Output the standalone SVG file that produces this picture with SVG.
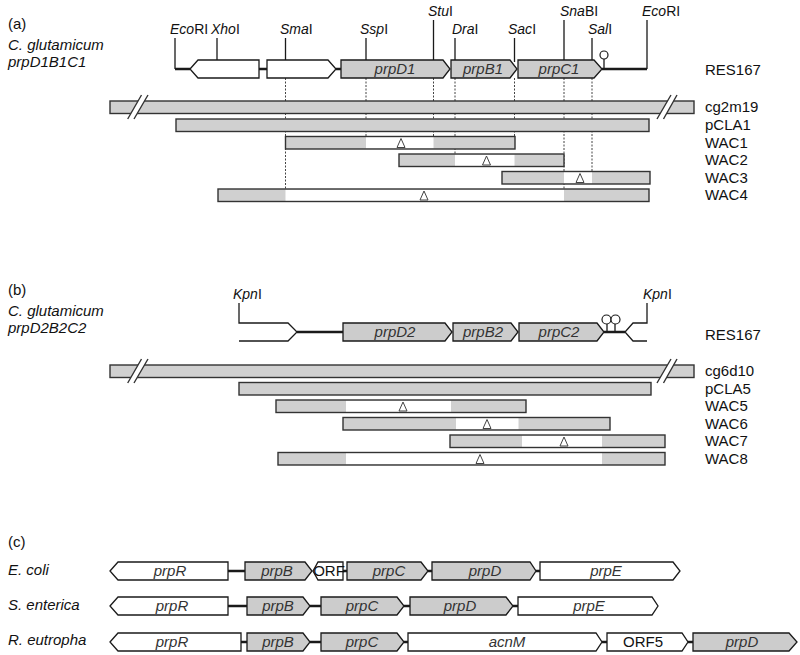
<svg xmlns="http://www.w3.org/2000/svg" width="800" height="655" viewBox="0 0 800 655">
<style>
text{font-family:"Liberation Sans",Arial,sans-serif;fill:#111}
.lab{font-size:15px}
.it{font-style:italic}
.site{font-size:14px}
.gl{font-size:15px;font-style:italic;fill:#333;text-anchor:middle}
.gr{font-size:15px;fill:#111;text-anchor:middle}
.gene{stroke:#1a1a1a;stroke-width:1.3;stroke-linejoin:miter}
.g{fill:#cccccc}
.w{fill:#ffffff}
.link{stroke:#1a1a1a;stroke-width:2.4;fill:none}
.ln{stroke:#1a1a1a;stroke-width:1.3;fill:none}
.dot{stroke:#444;stroke-width:1;stroke-dasharray:2,1.5;fill:none}
.bar{fill:#d0d0d0;stroke:none}
.bo{fill:none;stroke:#333;stroke-width:1.4}
.del{fill:#fff;stroke:#444;stroke-width:1}
.brk{stroke:#333;stroke-width:1.4}
</style>

<!-- ===== (a) ===== -->
<text class="lab" x="8" y="29">(a)</text>
<text class="lab it" x="8" y="50">C. glutamicum</text>
<text class="lab it" x="8" y="67">prpD1B1C1</text>

<g id="connectors">
  <!-- (a) backbone links -->
  <path class="link" d="M175,69H190M259,69H267M336,69H341M602,69H647"/>
  <!-- (a) restriction site lines -->
  <path class="ln" d="M175,38V69M217,38V60M285.5,38V60M366,38V60M433.5,20V60M455,38V60M514.5,38V62M564,20V60M592,38V60M647,20V69"/>
  <!-- (a) terminator -->
  <path class="ln" d="M604,69V59"/>
  <circle cx="604" cy="55" r="4" fill="#fff" stroke="#1a1a1a" stroke-width="1.2"/>
  <!-- (a) dotted projection lines -->
  <path class="dot" d="M285.5,78V189M366,78V136.5M433.5,78V136.5M455,78V154M514.5,78V136.5M564,78V189M592,78V171.5"/>

  <!-- (b) -->
  <path class="ln" d="M239,303V323H288L297,332L288,341H239"/>
  <path class="ln" d="M647,303V323H633L625,332L633,341H647"/>
  <path class="link" d="M297,332H343M604,332H625"/>
  <path class="ln" d="M607,332V324M615,332V324"/>
  <circle cx="606.5" cy="319.5" r="4.5" fill="#fff" stroke="#1a1a1a" stroke-width="1.2"/>
  <circle cx="615.5" cy="319.5" r="4.5" fill="#fff" stroke="#1a1a1a" stroke-width="1.2"/>

  <!-- (c) -->
  <path class="link" d="M228,571H245M343,571H347M428,571H432M536,571H540"/>
  <path class="link" d="M228,606H247M310,606H321M404,606H410M513,606H518"/>
  <path class="link" d="M241,642H247M310,642H321M404,642H408M602,642H607M688,642H693"/>
</g>

<!-- (a) site labels -->
<g id="sites-a">
  <text class="site" x="170" y="34"><tspan class="it">Eco</tspan>RI</text>
  <text class="site" x="211" y="34"><tspan class="it">Xho</tspan>I</text>
  <text class="site" x="280" y="34"><tspan class="it">Sma</tspan>I</text>
  <text class="site" x="360" y="34"><tspan class="it">Ssp</tspan>I</text>
  <text class="site" x="428" y="16"><tspan class="it">Stu</tspan>I</text>
  <text class="site" x="452" y="34"><tspan class="it">Dra</tspan>I</text>
  <text class="site" x="508" y="34"><tspan class="it">Sac</tspan>I</text>
  <text class="site" x="560" y="16"><tspan class="it">Sna</tspan>BI</text>
  <text class="site" x="588" y="34"><tspan class="it">Sal</tspan>I</text>
  <text class="site" x="642" y="16"><tspan class="it">Eco</tspan>RI</text>
</g>

<g id="a-orf1"><polygon class="gene w" points="190,69 198,60 259,60 259,78 198,78"/></g>
<g id="a-orf2"><polygon class="gene w" points="267,60 328,60 336,69 328,78 267,78"/></g>
<g id="prpD1"><polygon class="gene g" points="341,60 443,60 450,69 443,78 341,78"/><text class="gl" x="395" y="74">prpD1</text></g>
<g id="prpB1"><polygon class="gene g" points="451,60 510,60 517,69 510,78 451,78"/><text class="gl" x="483" y="74">prpB1</text></g>
<g id="prpC1"><polygon class="gene g" points="518,60 594,60 602,69 594,78 518,78"/><text class="gl" x="559" y="74">prpC1</text></g>
<text class="lab" x="705" y="75">RES167</text>

<!-- (a) clones -->
<g id="cg2m19">
  <rect class="bar" x="110" y="101" width="584" height="12.5"/>
  <rect class="bo" x="110" y="101" width="584" height="12.5"/>
  <polygon fill="#fff" points="127.7,119 141.5,95 148,95 134,119"/>
  <path class="brk" d="M127.7,119L141.5,95M134,119L148,95"/>
  <polygon fill="#fff" points="657,119 671,95 677,95 663.5,119"/>
  <path class="brk" d="M657,119L671,95M663.5,119L677,95"/>
  <text class="lab" x="705" y="112">cg2m19</text>
</g>
<g id="pCLA1">
  <rect class="bar" x="176" y="119" width="473" height="12.5"/>
  <rect class="bo" x="176" y="119" width="473" height="12.5"/>
  <text class="lab" x="705" y="130">pCLA1</text>
</g>
<g id="WAC1">
  <rect class="bar" x="285.5" y="136.5" width="229.5" height="12.5"/>
  <rect fill="#fff" x="366" y="137" width="67.5" height="11.5"/>
  <rect class="bo" x="285.5" y="136.5" width="229.5" height="12.5"/>
  <polygon class="del" points="401,138.5 397,147.5 405,147.5"/>
  <text class="lab" x="705" y="147.5">WAC1</text>
</g>
<g id="WAC2">
  <rect class="bar" x="399" y="154" width="165" height="12.5"/>
  <rect fill="#fff" x="455" y="154.5" width="59.5" height="11.5"/>
  <rect class="bo" x="399" y="154" width="165" height="12.5"/>
  <polygon class="del" points="486.5,156 482.5,165 490.5,165"/>
  <text class="lab" x="705" y="165">WAC2</text>
</g>
<g id="WAC3">
  <rect class="bar" x="502" y="171.5" width="148" height="12.5"/>
  <rect fill="#fff" x="564" y="172" width="28" height="11.5"/>
  <rect class="bo" x="502" y="171.5" width="148" height="12.5"/>
  <polygon class="del" points="580,173.5 576,182.5 584,182.5"/>
  <text class="lab" x="705" y="182.5">WAC3</text>
</g>
<g id="WAC4">
  <rect class="bar" x="218" y="189" width="431" height="12.5"/>
  <rect fill="#fff" x="285.5" y="189.5" width="278.5" height="11.5"/>
  <rect class="bo" x="218" y="189" width="431" height="12.5"/>
  <polygon class="del" points="424,191 420,200 428,200"/>
  <text class="lab" x="705" y="200">WAC4</text>
</g>

<!-- ===== (b) ===== -->
<text class="lab" x="8" y="295">(b)</text>
<text class="lab it" x="8" y="316">C. glutamicum</text>
<text class="lab it" x="8" y="333">prpD2B2C2</text>

<g id="sites-b">
  <text class="site" x="233" y="299"><tspan class="it">Kpn</tspan>I</text>
  <text class="site" x="643" y="299"><tspan class="it">Kpn</tspan>I</text>
</g>
<g id="prpD2"><polygon class="gene g" points="343,323 445,323 452,332 445,341 343,341"/><text class="gl" x="395" y="337">prpD2</text></g>
<g id="prpB2"><polygon class="gene g" points="453,323 511,323 518,332 511,341 453,341"/><text class="gl" x="483" y="337">prpB2</text></g>
<g id="prpC2"><polygon class="gene g" points="519,323 597,323 604,332 597,341 519,341"/><text class="gl" x="559" y="337">prpC2</text></g>
<text class="lab" x="705" y="340">RES167</text>

<g id="cg6d10">
  <rect class="bar" x="110" y="365" width="584" height="12.5"/>
  <rect class="bo" x="110" y="365" width="584" height="12.5"/>
  <polygon fill="#fff" points="127.7,383 141.5,359 148,359 134,383"/>
  <path class="brk" d="M127.7,383L141.5,359M134,383L148,359"/>
  <polygon fill="#fff" points="657,383 671,359 677,359 663.5,383"/>
  <path class="brk" d="M657,383L671,359M663.5,383L677,359"/>
  <text class="lab" x="705" y="376">cg6d10</text>
</g>
<g id="pCLA5">
  <rect class="bar" x="239" y="382.5" width="412" height="12.5"/>
  <rect class="bo" x="239" y="382.5" width="412" height="12.5"/>
  <text class="lab" x="705" y="393.5">pCLA5</text>
</g>
<g id="WAC5">
  <rect class="bar" x="276" y="400" width="250" height="12.5"/>
  <rect fill="#fff" x="346" y="400.5" width="105" height="11.5"/>
  <rect class="bo" x="276" y="400" width="250" height="12.5"/>
  <polygon class="del" points="403,402 399,411 407,411"/>
  <text class="lab" x="705" y="411">WAC5</text>
</g>
<g id="WAC6">
  <rect class="bar" x="343" y="417.5" width="267" height="12.5"/>
  <rect fill="#fff" x="456" y="418" width="62.5" height="11.5"/>
  <rect class="bo" x="343" y="417.5" width="267" height="12.5"/>
  <polygon class="del" points="487,419.5 483,428.5 491,428.5"/>
  <text class="lab" x="705" y="428.5">WAC6</text>
</g>
<g id="WAC7">
  <rect class="bar" x="450" y="435" width="215" height="12.5"/>
  <rect fill="#fff" x="522" y="435.5" width="80" height="11.5"/>
  <rect class="bo" x="450" y="435" width="215" height="12.5"/>
  <polygon class="del" points="564,437 560,446 568,446"/>
  <text class="lab" x="705" y="446">WAC7</text>
</g>
<g id="WAC8">
  <rect class="bar" x="278" y="452.5" width="387" height="12.5"/>
  <rect fill="#fff" x="346" y="453" width="256" height="11.5"/>
  <rect class="bo" x="278" y="452.5" width="387" height="12.5"/>
  <polygon class="del" points="480,454.5 476,463.5 484,463.5"/>
  <text class="lab" x="705" y="463.5">WAC8</text>
</g>

<!-- ===== (c) ===== -->
<text class="lab" x="8" y="547">(c)</text>
<text class="lab it" x="8" y="575">E. coli</text>
<text class="lab it" x="8" y="610">S. enterica</text>
<text class="lab it" x="8" y="645">R. eutropha</text>

<g id="ec-prpR"><polygon class="gene w" points="110,571 118,562 228,562 228,580 118,580"/><text class="gl" x="170" y="576">prpR</text></g>
<g id="ec-prpB"><polygon class="gene g" points="245,562 305,562 312,571 305,580 245,580"/><text class="gl" x="277" y="576">prpB</text></g>
<g id="ec-ORF"><polygon class="gene w" points="313,571 318,562 343,562 343,580 318,580"/><text class="gr" x="329" y="576">ORF</text></g>
<g id="ec-prpC"><polygon class="gene g" points="347,562 421,562 428,571 421,580 347,580"/><text class="gl" x="389" y="576">prpC</text></g>
<g id="ec-prpD"><polygon class="gene g" points="432,562 530,562 536,571 530,580 432,580"/><text class="gl" x="485" y="576">prpD</text></g>
<g id="ec-prpE"><polygon class="gene w" points="540,562 673,562 680,571 673,580 540,580"/><text class="gl" x="606" y="576">prpE</text></g>

<g id="se-prpR"><polygon class="gene w" points="110,606 118,597 228,597 228,615 118,615"/><text class="gl" x="172" y="611">prpR</text></g>
<g id="se-prpB"><polygon class="gene g" points="247,597 303,597 310,606 303,615 247,615"/><text class="gl" x="278" y="611">prpB</text></g>
<g id="se-prpC"><polygon class="gene g" points="321,597 397,597 404,606 397,615 321,615"/><text class="gl" x="362" y="611">prpC</text></g>
<g id="se-prpD"><polygon class="gene g" points="410,597 506,597 513,606 506,615 410,615"/><text class="gl" x="460" y="611">prpD</text></g>
<g id="se-prpE"><polygon class="gene w" points="518,597 652,597 658,606 652,615 518,615"/><text class="gl" x="589" y="611">prpE</text></g>

<g id="re-prpR"><polygon class="gene w" points="110,642 118,633 241,633 241,651 118,651"/><text class="gl" x="172" y="647">prpR</text></g>
<g id="re-prpB"><polygon class="gene g" points="247,633 303,633 310,642 303,651 247,651"/><text class="gl" x="278" y="647">prpB</text></g>
<g id="re-prpC"><polygon class="gene g" points="321,633 397,633 404,642 397,651 321,651"/><text class="gl" x="362" y="647">prpC</text></g>
<g id="re-acnM"><polygon class="gene w" points="408,633 596,633 602,642 596,651 408,651"/><text class="gl" x="507" y="647">acnM</text></g>
<g id="re-ORF5"><polygon class="gene w" points="607,633 682,633 688,642 682,651 607,651"/><text class="gr" x="643" y="647">ORF5</text></g>
<g id="re-prpD"><polygon class="gene g" points="693,633 789,633 797,642 789,651 693,651"/><text class="gl" x="742" y="647">prpD</text></g>
</svg>
